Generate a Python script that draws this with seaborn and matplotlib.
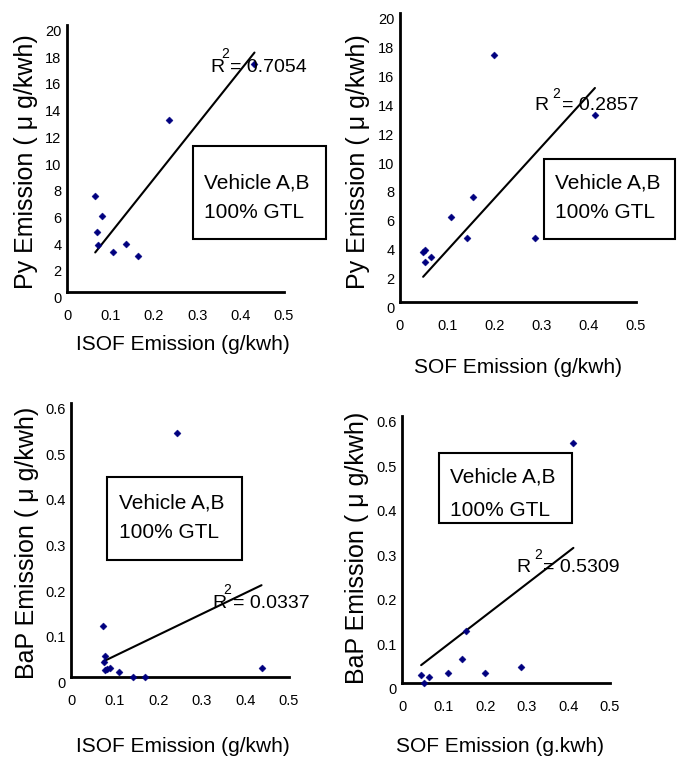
import numpy as np
import pandas as pd
import seaborn as sns
import matplotlib.pyplot as plt
from matplotlib.patches import Rectangle
from matplotlib.transforms import ScaledTranslation

# pontos
isof_py_x = [0.065, 0.080, 0.070, 0.071, 0.107, 0.135, 0.163, 0.236, 0.432]
isof_py_y = [7.2, 5.7, 4.5, 3.5, 3.0, 3.6, 2.7, 12.9, 17.05]

sof_py_x = [0.049, 0.052, 0.054, 0.066, 0.109, 0.143, 0.154, 0.199, 0.287, 0.413]
sof_py_y = [3.49, 3.63, 2.77, 3.08, 5.85, 4.46, 7.24, 17.09, 4.46, 12.93]

isof_bap_x = [0.074, 0.079, 0.075, 0.079, 0.082, 0.089, 0.111, 0.143, 0.170, 0.242, 0.437]
isof_bap_y = [0.112, 0.046, 0.033, 0.016, 0.018, 0.020, 0.011, 0.0, 0.0, 0.534, 0.020]

sof_bap_x = [0.046, 0.052, 0.066, 0.110, 0.144, 0.153, 0.200, 0.286, 0.412]
sof_bap_y = [0.017, 0.0, 0.013, 0.022, 0.053, 0.116, 0.022, 0.036, 0.539]

# linha de tendencia (inclinacao, intercepto)
trend_slope = [40.8, 35.9, 0.46, 0.72]
trend_intercept = [0.31, -0.015, 0.0, 0.007]
r2_text = ['0.7054', '0.2857', '0.0337', '0.5309']

x_ticks = [0, 0.1, 0.2, 0.3, 0.4, 0.5]
x_ticklabels = ['0', '0.1', '0.2', '0.3', '0.4', '0.5']
py_ticks = [0, 2, 4, 6, 8, 10, 12, 14, 16, 18, 20]
bap_ticks = [0, 0.1, 0.2, 0.3, 0.4, 0.5, 0.6]
bap_ticklabels = ['0', '0.1', '0.2', '0.3', '0.4', '0.5', '0.6']

x_labels = ['ISOF Emission (g/kwh)', 'SOF Emission (g/kwh)',
            'ISOF Emission (g/kwh)', 'SOF Emission (g.kwh)']
y_labels = ['Py Emission ( μ g/kwh)', 'Py Emission ( μ g/kwh)',
            'BaP Emission ( μ g/kwh)', 'BaP Emission ( μ g/kwh)']
box_text = 'Vehicle A,B\n100% GTL'

sns.set_theme(style='white')
plt.rcParams['font.family'] = ['Liberation Sans', 'DejaVu Sans']
plt.rcParams['text.color'] = 'black'
plt.rcParams['axes.labelcolor'] = 'black'

W, H = 684, 760
fig = plt.figure(figsize=(W / 100, H / 100), dpi=100)


def fx(px):
    return px / W


def fy(py):
    return 1 - py / H


# posicoes em pixels: eixo (esq, topo, dir, base), caixa, R2, rotulos
layout = [
    dict(ax=(67, 25, 284, 292), box=(193, 146, 326, 239), txt=(204, 183, 213),
         r=(210, 68), sup=(221, 54), eq=(230, 68), xl=(183, 345), yl=(26, 162)),
    dict(ax=(400, 13, 636, 302), box=(544, 159, 675, 239), txt=(555, 183, 213),
         r=(534, 106), sup=(552, 94), eq=(562, 106), xl=(518, 368), yl=(358, 162)),
    dict(ax=(71, 403, 289, 677), box=(107, 477, 242, 560), txt=(119, 503, 533),
         r=(212, 604), sup=(223, 590), eq=(233, 604), xl=(183, 747), yl=(27, 543)),
    dict(ax=(402, 416, 610, 683), box=(439, 453, 572, 523), txt=(450, 477, 510),
         r=(516, 567), sup=(534, 555), eq=(543, 567), xl=(500, 747), yl=(357, 548)),
]

datasets = [(isof_py_x, isof_py_y), (sof_py_x, sof_py_y),
            (isof_bap_x, isof_bap_y), (sof_bap_x, sof_bap_y)]

for i, (xs, ys) in enumerate(datasets):
    L = layout[i]
    l, t, r, b = L['ax']
    ax = fig.add_axes([fx(l), fy(b), (r - l) / W, (b - t) / H])
    df = pd.DataFrame({'x': xs, 'y': ys})

    # linha de tendencia sobre o intervalo dos dados
    xx = np.array([min(xs), max(xs)])
    trend = pd.DataFrame({'x': xx, 'y': trend_intercept[i] + trend_slope[i] * xx})
    sns.lineplot(data=trend, x='x', y='y', ax=ax, color='black', linewidth=1.5)
    sns.scatterplot(data=df, x='x', y='y', ax=ax, marker='D', s=13,
                    color='#00007f', edgecolor='#00007f', clip_on=False, zorder=3)

    ax.set_xlim(0, 0.5)
    ax.set_xticks(x_ticks)
    ax.set_xticklabels(x_ticklabels)
    if i < 2:
        ax.set_ylim(0, 20)
        ax.set_yticks(py_ticks)
        ax.set_yticklabels([str(v) for v in py_ticks])
    else:
        ax.set_ylim(0, 0.6)
        ax.set_yticks(bap_ticks)
        ax.set_yticklabels(bap_ticklabels)

    for s in ['top', 'right']:
        ax.spines[s].set_visible(False)
    for s in ['left', 'bottom']:
        ax.spines[s].set_linewidth(2)
        ax.spines[s].set_color('black')
    ax.tick_params(direction='in', length=4, width=1.5, colors='black',
                   labelsize=10.5)
    ax.tick_params(axis='x', pad=12)
    ax.tick_params(axis='y', pad=4)
    off = ScaledTranslation(0, -4 / 72, fig.dpi_scale_trans)
    for lab in ax.get_yticklabels():
        lab.set_transform(lab.get_transform() + off)

    ax.set_xlabel(x_labels[i], fontsize=15, va='center')
    ax.xaxis.set_label_coords(fx(L['xl'][0]), fy(L['xl'][1]), transform=fig.transFigure)
    ax.set_ylabel(y_labels[i], fontsize=18, va='center')
    ax.yaxis.set_label_coords(fx(L['yl'][0]), fy(L['yl'][1]), transform=fig.transFigure)

    # caixa de legenda
    bl, bt, br, bb = L['box']
    fig.patches.append(Rectangle((fx(bl), fy(bb)), (br - bl) / W, (bb - bt) / H,
                                 transform=fig.transFigure, fill=False,
                                 edgecolor='black', linewidth=1.5))
    tx, ty1, ty2 = L['txt']
    fig.text(fx(tx), fy(ty1), box_text.split('\n')[0], fontsize=15, va='center')
    fig.text(fx(tx), fy(ty2), box_text.split('\n')[1], fontsize=15, va='center')

    # R^2
    fig.text(fx(L['r'][0]), fy(L['r'][1]), 'R', fontsize=14, va='center')
    fig.text(fx(L['sup'][0]), fy(L['sup'][1]), '2', fontsize=10, va='center')
    fig.text(fx(L['eq'][0]), fy(L['eq'][1]), '= ' + r2_text[i], fontsize=14, va='center')

plt.savefig('out.png', dpi=100)
